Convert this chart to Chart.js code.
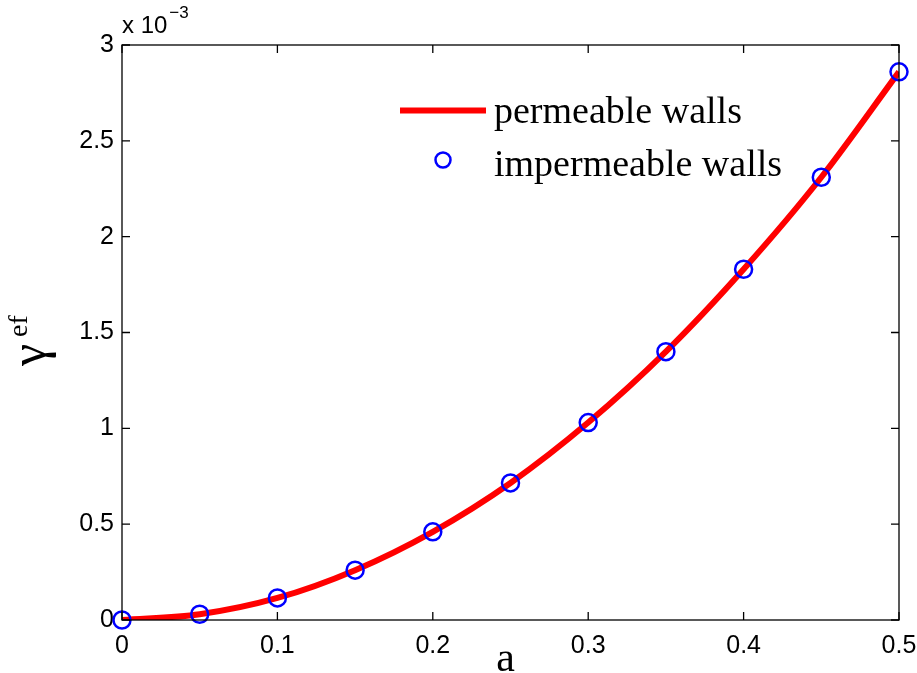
<!DOCTYPE html>
<html>
<head>
<meta charset="utf-8">
<script src="https://cdn.jsdelivr.net/npm/chart.js@4.4.1/dist/chart.umd.min.js"></script>
<style>
  html, body { margin: 0; padding: 0; background: #fff; }
  #wrap { width: 917px; height: 673px; position: relative; }
</style>
</head>
<body>
<div id="wrap"><canvas id="c" width="917" height="673"></canvas></div>
<script>
// ---- data (y values in units of 1e-3, as on the axis) ----
const aValues = [0, 0.05, 0.1, 0.15, 0.2, 0.25, 0.3, 0.35, 0.4, 0.45, 0.5];
const permeable = [0, 0.03, 0.115, 0.26, 0.46, 0.715, 1.03, 1.40, 1.83, 2.31, 2.86];
const impermeable = [0, 0.03, 0.115, 0.26, 0.46, 0.715, 1.03, 1.40, 1.83, 2.31, 2.86];
const xTicks = [0, 0.1, 0.2, 0.3, 0.4, 0.5];
const xTickLabels = ['0', '0.1', '0.2', '0.3', '0.4', '0.5'];
const yTicks = [0, 0.5, 1, 1.5, 2, 2.5, 3];
const yTickLabels = ['0', '0.5', '1', '1.5', '2', '2.5', '3'];
const seriesNames = ['permeable walls', 'impermeable walls'];
const xTitle = 'a';
const yTitleMain = 'γ';
const yTitleSup = 'ef';
const exponentText = ['x 10', '−3'];

const SANS = '"Liberation Sans", Arial, sans-serif';
const SERIF = '"Liberation Serif", "Times New Roman", serif';

const frame = {
  id: 'frame',
  afterDatasetsDraw(chart) {
    const {ctx, chartArea: ca, scales} = chart;
    ctx.save();
    ctx.strokeStyle = '#000';
    ctx.lineWidth = 1.3;
    ctx.strokeRect(ca.left, ca.top, ca.right - ca.left, ca.bottom - ca.top);
    const L = 8;
    ctx.beginPath();
    scales.x.ticks.forEach(t => {
      const px = scales.x.getPixelForValue(t.value);
      ctx.moveTo(px, ca.bottom); ctx.lineTo(px, ca.bottom - L);
      ctx.moveTo(px, ca.top); ctx.lineTo(px, ca.top + L);
    });
    scales.y.ticks.forEach(t => {
      const py = scales.y.getPixelForValue(t.value);
      ctx.moveTo(ca.left, py); ctx.lineTo(ca.left + L, py);
      ctx.moveTo(ca.right, py); ctx.lineTo(ca.right - L, py);
    });
    ctx.stroke();
    ctx.restore();
  },
  afterDraw(chart) {
    const {ctx, chartArea: ca} = chart;
    ctx.save();
    ctx.fillStyle = '#000';
    // exponent
    ctx.textBaseline = 'alphabetic';
    ctx.textAlign = 'left';
    ctx.font = '24px ' + SANS;
    ctx.fillText(exponentText[0], ca.left, 33);
    const w = ctx.measureText(exponentText[0]).width;
    ctx.font = '17px ' + SANS;
    ctx.fillText(exponentText[1], ca.left + w + 2, 18);
    // x title
    ctx.font = '42px ' + SERIF;
    ctx.textAlign = 'center';
    ctx.fillText(xTitle, (ca.left + ca.right) / 2 - 5, 671);
    // y title
    ctx.textAlign = 'left';
    ctx.translate(45, 366);
    ctx.rotate(-Math.PI / 2);
    ctx.font = '50px ' + SERIF;
    ctx.fillText(yTitleMain, 0, 0);
    const gw = ctx.measureText(yTitleMain).width;
    ctx.font = '28px ' + SERIF;
    ctx.fillText(yTitleSup, gw + 7, -18);
    ctx.restore();

    // legend
    const ds = chart.data.datasets;
    ctx.save();
    ctx.font = '38px ' + SERIF;
    ctx.textBaseline = 'alphabetic';
    ctx.fillStyle = '#000';
    const lineDs = ds.find(d => d.showLine);
    const ptDs = ds.find(d => !d.showLine);
    ctx.strokeStyle = lineDs.borderColor;
    ctx.lineWidth = lineDs.borderWidth;
    ctx.beginPath(); ctx.moveTo(400, 110.5); ctx.lineTo(486, 110.5); ctx.stroke();
    ctx.fillText(lineDs.label, 494, 123);
    ctx.strokeStyle = ptDs.borderColor;
    ctx.lineWidth = ptDs.borderWidth;
    ctx.beginPath(); ctx.arc(443, 160, 7.5, 0, Math.PI * 2); ctx.stroke();
    ctx.fillText(ptDs.label, 494, 176);
    ctx.restore();
  }
};

new Chart(document.getElementById('c'), {
  type: 'scatter',
  data: {
    datasets: [
      {
        label: seriesNames[1],
        data: aValues.map((a, i) => ({x: a, y: impermeable[i]})),
        showLine: false,
        pointStyle: 'circle',
        pointRadius: 8.5,
        pointBorderWidth: 2.5,
        borderColor: '#0000ff',
        backgroundColor: 'rgba(0,0,0,0)',
        borderWidth: 2.5,
        clip: false,
        order: 1
      },
      {
        label: seriesNames[0],
        data: aValues.map((a, i) => ({x: a, y: permeable[i]})),
        showLine: true,
        pointRadius: 0,
        borderColor: '#ff0000',
        backgroundColor: '#ff0000',
        borderWidth: 6,
        cubicInterpolationMode: 'monotone',
        order: 2
      }
    ]
  },
  options: {
    responsive: false,
    animation: false,
    devicePixelRatio: 1,
    layout: { padding: { left: 0, top: 45, right: 18, bottom: 0 } },
    plugins: { legend: { display: false }, tooltip: { enabled: false } },
    scales: {
      x: {
        type: 'linear', min: 0, max: 0.5,
        afterBuildTicks: s => { s.ticks = xTicks.map(v => ({value: v})); },
        afterFit: s => { s.height = 53; s.paddingRight = 0; s.paddingLeft = 0; },
        grid: { display: false, drawTicks: false },
        border: { display: false },
        ticks: {
          padding: 11,
          color: '#000',
          font: { family: SANS, size: 25 },
          maxRotation: 0,
          callback: (v, i) => xTickLabels[i]
        }
      },
      y: {
        type: 'linear', min: 0, max: 3,
        afterBuildTicks: s => { s.ticks = yTicks.map(v => ({value: v})); },
        afterFit: s => { s.width = 122; s.paddingTop = 0; s.paddingBottom = 0; },
        grid: { display: false, drawTicks: false },
        border: { display: false },
        ticks: {
          padding: 8,
          color: '#000',
          font: { family: SANS, size: 25 },
          callback: (v, i) => yTickLabels[i]
        }
      }
    }
  },
  plugins: [frame]
});
</script>
</body>
</html>
